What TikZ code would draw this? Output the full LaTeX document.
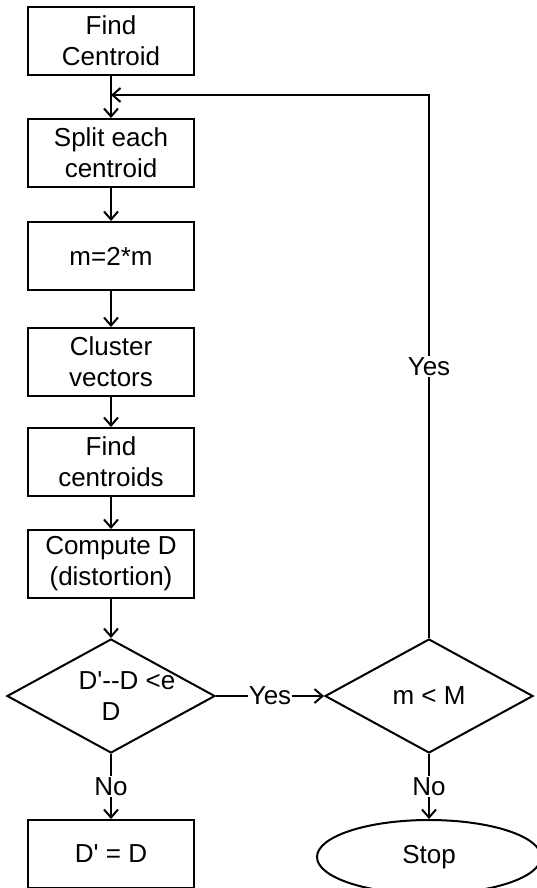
\documentclass[tikz,border=0pt]{standalone}
\usepackage{fontspec}
\setmainfont[Ligatures=TeXOff]{Liberation Sans}
\usetikzlibrary{shapes.geometric,arrows.meta}
\begin{document}
\begin{tikzpicture}[x=1pt,y=-1pt,
  every node/.style={font=\fontsize{26}{31}\selectfont},
  procbox/.style={draw, line width=2pt, minimum width=166pt, minimum height=68pt,
    align=center, inner sep=0pt},
  decision/.style={draw, diamond, line width=2pt, minimum width=208pt,
    minimum height=114pt, aspect=1.82, inner sep=0pt, align=center},
  terminal/.style={draw, ellipse, line width=2pt, minimum width=224pt,
    minimum height=74pt},
  flow/.style={line width=2pt,
    -{Straight Barb[length=8pt,width=14pt,line width=2pt]}},
  lbl/.style={fill=white, inner sep=1pt}]
\useasboundingbox (0,0) rectangle (537,888);

% main column
\node[procbox] (find)    at (111,41)  {Find\\Centroid};
\node[procbox] (split)   at (111,153) {Split each\\centroid};
\node[procbox] (double)  at (111,256) {m=2*m};
\node[procbox] (cluster) at (111,362) {Cluster\\vectors};
\node[procbox] (cents)   at (111,462) {Find\\centroids};
\node[procbox] (dist)    at (111,564) {Compute D\\(distortion)};
\node[decision] (conv)   at (111,696) {\makebox[0pt]{\hspace*{32pt}D'--D <e}\\D};
\node[procbox] (update)  at (111,854) {D' = D};

% right column
\node[decision] (size)   at (429,696) {m < M};
\node[terminal] (stop)   at (429,857) {Stop};

\coordinate (join) at (111,95);

\draw[flow] (find) -- (split);
\draw[flow] (split) -- (double);
\draw[flow] (double) -- (cluster);
\draw[flow] (cluster) -- (cents);
\draw[flow] (cents) -- (dist);
\draw[flow] (dist) -- (conv);
\draw[flow] (conv) -- node[lbl] {No} (update);
\draw[flow] (conv) -- node[lbl] {Yes} (size);
\draw[flow] (size) -- node[lbl] {No} (stop);
\draw[flow] (size.north) |- node[lbl, pos=0.25] {Yes} (join);
\end{tikzpicture}
\end{document}
